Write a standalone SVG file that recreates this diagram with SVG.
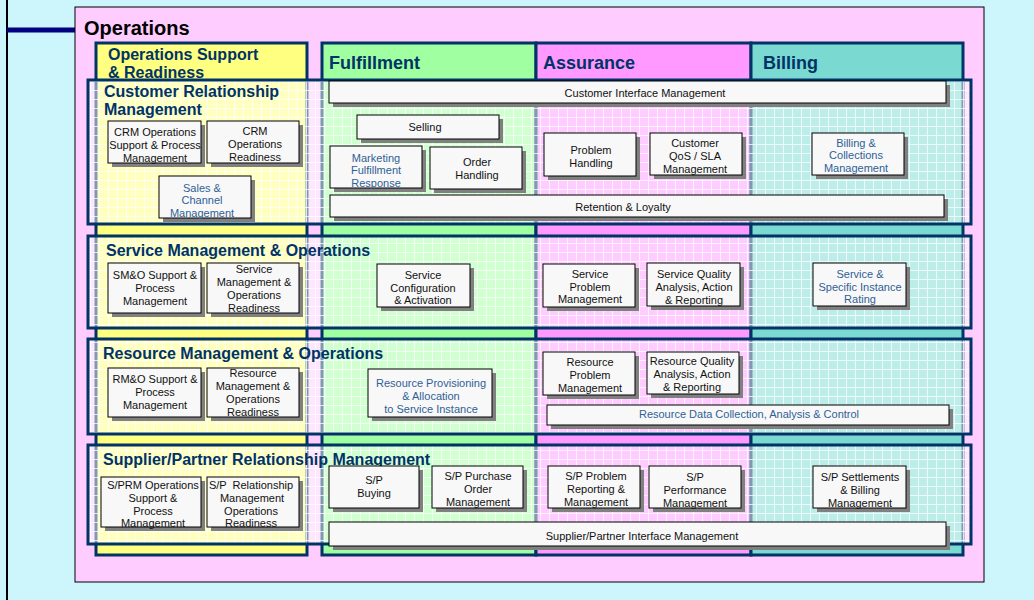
<svg xmlns="http://www.w3.org/2000/svg" width="1034" height="600" viewBox="0 0 1034 600">
<style>
.col{stroke:#003366;stroke-width:3}
.row{fill:#ffffff;fill-opacity:0.5;stroke:none}
.rowgrid{fill:url(#grid);stroke:none}
.rowb{fill:none;stroke:#003366;stroke-width:3}
.hd{font-family:"Liberation Sans",Arial,sans-serif;font-weight:bold;fill:#003366}
.h1{font-size:16px}
.h2{font-size:18px}
.sh{fill:#808080}
.bx{fill:#f8f8f8;stroke:#000000;stroke-width:1}
.t{font-family:"Liberation Sans",Arial,sans-serif;font-size:11px;fill:#111111;text-anchor:middle}
.b{fill:#2f5f96}
</style>
<defs>
<pattern id="grid" width="9" height="9" patternUnits="userSpaceOnUse">
<path d="M0 0.5H9M0.5 0V9" stroke="#ffffff" stroke-opacity="0.75" stroke-width="1" fill="none"/>
</pattern>
</defs>
<rect x="0" y="0" width="1034" height="600" fill="#ccf5fc"/>
<g id="frame">
<line x1="7" y1="0" x2="7" y2="600" stroke="#000000" stroke-width="2"/>
<line x1="7" y1="30" x2="75" y2="30" stroke="#000080" stroke-width="5"/>
<rect x="75" y="7" width="909" height="575" fill="#ffccff" stroke="#000000" stroke-width="1"/>
<text x="84" y="35" font-family="Liberation Sans,Arial,sans-serif" font-weight="bold" font-size="20" fill="#000000">Operations</text>
</g>
<g id="columns">
<rect class="col" x="96" y="43" width="211" height="512" fill="#ffff80"/>
<rect class="col" x="322" y="43" width="214" height="512" fill="#a0ffa0"/>
<rect class="col" x="536" y="43" width="215" height="512" fill="#ff99ff"/>
<rect class="col" x="751" y="43" width="212" height="512" fill="#7adad2"/>
<text class="hd h1" x="108" y="60">Operations Support</text>
<text class="hd h1" x="108" y="78">&amp; Readiness</text>
<text class="hd h2" x="329" y="69">Fulfillment</text>
<text class="hd h2" x="543" y="69">Assurance</text>
<text class="hd h2" x="763" y="69">Billing</text>
</g>
<g id="rows">
<rect class="row" x="88" y="80" width="883" height="144"/>
<rect class="rowgrid" x="88" y="80" width="883" height="144"/>
<rect class="rowb" x="88" y="80" width="883" height="144"/>
<rect class="row" x="88" y="236" width="883" height="92"/>
<rect class="rowgrid" x="88" y="236" width="883" height="92"/>
<rect class="rowb" x="88" y="236" width="883" height="92"/>
<rect class="row" x="88" y="339" width="883" height="95"/>
<rect class="rowgrid" x="88" y="339" width="883" height="95"/>
<rect class="rowb" x="88" y="339" width="883" height="95"/>
<rect class="row" x="88" y="445" width="883" height="99"/>
<rect class="rowgrid" x="88" y="445" width="883" height="99"/>
<rect class="rowb" x="88" y="445" width="883" height="99"/>
<text class="hd h1" x="104" y="97">Customer Relationship</text>
<text class="hd h1" x="104" y="115">Management</text>
<text class="hd h1" x="106" y="256">Service Management &amp; Operations</text>
<text class="hd h1" x="103" y="359">Resource Management &amp; Operations</text>
<text class="hd h1" x="103" y="465">Supplier/Partner Relationship Management</text>
</g>
<g id="crm-ops-support"><rect class="sh" x="112" y="125" width="93" height="42"/><rect class="bx" x="108" y="121" width="93" height="42"/><text class="t" x="155" y="136">CRM Operations</text><text class="t" x="155" y="149">Support &amp; Process</text><text class="t" x="155" y="162">Management</text></g>
<g id="crm-ops-readiness"><rect class="sh" x="211" y="125" width="92" height="42"/><rect class="bx" x="207" y="121" width="92" height="42"/><text class="t" x="255" y="135">CRM</text><text class="t" x="255" y="148">Operations</text><text class="t" x="255" y="161">Readiness</text></g>
<g id="sales-channel"><rect class="sh" x="163" y="180" width="92" height="42"/><rect class="bx" x="159" y="176" width="92" height="42"/><text class="t b" x="202" y="192">Sales &amp;</text><text class="t b" x="202" y="204">Channel</text><text class="t b" x="202" y="217">Management</text></g>
<g id="customer-interface"><rect class="sh" x="333" y="85" width="617" height="22"/><rect class="bx" x="329" y="81" width="617" height="22"/><text class="t" x="645" y="97">Customer Interface Management</text></g>
<g id="selling"><rect class="sh" x="361" y="119" width="142" height="24"/><rect class="bx" x="357" y="115" width="142" height="24"/><text class="t" x="425" y="131">Selling</text></g>
<g id="marketing-fulfillment"><rect class="sh" x="334" y="150" width="92" height="42"/><rect class="bx" x="330" y="146" width="92" height="42"/><text class="t b" x="376" y="162">Marketing</text><text class="t b" x="376" y="174">Fulfillment</text><text class="t b" x="376" y="187">Response</text></g>
<g id="order-handling"><rect class="sh" x="434" y="151" width="92" height="42"/><rect class="bx" x="430" y="147" width="92" height="42"/><text class="t" x="477" y="166">Order</text><text class="t" x="477" y="179">Handling</text></g>
<g id="problem-handling"><rect class="sh" x="548" y="137" width="92" height="43"/><rect class="bx" x="544" y="133" width="92" height="43"/><text class="t" x="591" y="154">Problem</text><text class="t" x="591" y="167">Handling</text></g>
<g id="customer-qos"><rect class="sh" x="654" y="137" width="92" height="42"/><rect class="bx" x="650" y="133" width="92" height="42"/><text class="t" x="695" y="147">Customer</text><text class="t" x="695" y="160">QoS / SLA</text><text class="t" x="695" y="173">Management</text></g>
<g id="billing-collections"><rect class="sh" x="816" y="137" width="92" height="42"/><rect class="bx" x="812" y="133" width="92" height="42"/><text class="t b" x="856" y="147">Billing &amp;</text><text class="t b" x="856" y="159">Collections</text><text class="t b" x="856" y="172">Management</text></g>
<g id="retention-loyalty"><rect class="sh" x="334" y="199" width="614" height="22"/><rect class="bx" x="330" y="195" width="614" height="22"/><text class="t" x="623" y="211">Retention &amp; Loyalty</text></g>
<g id="smo-support"><rect class="sh" x="112" y="267" width="93" height="50"/><rect class="bx" x="108" y="263" width="93" height="50"/><text class="t" x="155" y="279">SM&amp;O Support &amp;</text><text class="t" x="155" y="292">Process</text><text class="t" x="155" y="305">Management</text></g>
<g id="smo-readiness"><rect class="sh" x="211" y="267" width="92" height="50"/><rect class="bx" x="207" y="263" width="92" height="50"/><text class="t" x="254" y="273">Service</text><text class="t" x="254" y="286">Management &amp;</text><text class="t" x="254" y="299">Operations</text><text class="t" x="254" y="312">Readiness</text></g>
<g id="service-config"><rect class="sh" x="381" y="268" width="93" height="43"/><rect class="bx" x="377" y="264" width="93" height="43"/><text class="t" x="423" y="279">Service</text><text class="t" x="423" y="292">Configuration</text><text class="t" x="423" y="304">&amp; Activation</text></g>
<g id="service-problem"><rect class="sh" x="547" y="268" width="92" height="43"/><rect class="bx" x="543" y="264" width="92" height="43"/><text class="t" x="590" y="278">Service</text><text class="t" x="590" y="291">Problem</text><text class="t" x="590" y="303">Management</text></g>
<g id="service-quality"><rect class="sh" x="651" y="267" width="93" height="43"/><rect class="bx" x="647" y="263" width="93" height="43"/><text class="t" x="694" y="278">Service Quality</text><text class="t" x="694" y="291">Analysis, Action</text><text class="t" x="694" y="304">&amp; Reporting</text></g>
<g id="service-rating"><rect class="sh" x="817" y="267" width="93" height="43"/><rect class="bx" x="813" y="263" width="93" height="43"/><text class="t b" x="860" y="278">Service &amp;</text><text class="t b" x="860" y="291">Specific Instance</text><text class="t b" x="860" y="303">Rating</text></g>
<g id="rmo-support"><rect class="sh" x="112" y="372" width="93" height="49"/><rect class="bx" x="108" y="368" width="93" height="49"/><text class="t" x="155" y="383">RM&amp;O Support &amp;</text><text class="t" x="155" y="396">Process</text><text class="t" x="155" y="409">Management</text></g>
<g id="rmo-readiness"><rect class="sh" x="211" y="372" width="92" height="49"/><rect class="bx" x="207" y="368" width="92" height="49"/><text class="t" x="253" y="377">Resource</text><text class="t" x="253" y="390">Management &amp;</text><text class="t" x="253" y="403">Operations</text><text class="t" x="253" y="416">Readiness</text></g>
<g id="resource-provisioning"><rect class="sh" x="372" y="373" width="124" height="48"/><rect class="bx" x="368" y="369" width="124" height="48"/><text class="t b" x="431" y="387">Resource Provisioning</text><text class="t b" x="431" y="400">&amp; Allocation</text><text class="t b" x="431" y="413">to Service Instance</text></g>
<g id="resource-problem"><rect class="sh" x="547" y="356" width="92" height="43"/><rect class="bx" x="543" y="352" width="92" height="43"/><text class="t" x="590" y="366">Resource</text><text class="t" x="590" y="379">Problem</text><text class="t" x="590" y="392">Management</text></g>
<g id="resource-quality"><rect class="sh" x="651" y="356" width="92" height="42"/><rect class="bx" x="647" y="352" width="92" height="42"/><text class="t" x="692" y="365">Resource Quality</text><text class="t" x="692" y="378">Analysis, Action</text><text class="t" x="692" y="391">&amp; Reporting</text></g>
<g id="resource-data"><rect class="sh" x="551" y="409" width="402" height="20"/><rect class="bx" x="547" y="405" width="402" height="20"/><text class="t b" x="749" y="418">Resource Data Collection, Analysis &amp; Control</text></g>
<g id="sprm-support"><rect class="sh" x="105" y="481" width="100" height="50"/><rect class="bx" x="101" y="477" width="100" height="50"/><text class="t" x="153" y="489">S/PRM Operations</text><text class="t" x="153" y="502">Support &amp;</text><text class="t" x="153" y="515">Process</text><text class="t" x="153" y="527">Management</text></g>
<g id="sp-relationship-readiness"><rect class="sh" x="211" y="481" width="92" height="50"/><rect class="bx" x="207" y="477" width="92" height="50"/><text class="t" x="251" y="489" xml:space="preserve">S/P  Relationship</text><text class="t" x="252" y="502">Management</text><text class="t" x="251" y="515">Operations</text><text class="t" x="251" y="527">Readiness</text></g>
<g id="sp-buying"><rect class="sh" x="333" y="470" width="90" height="42"/><rect class="bx" x="329" y="466" width="90" height="42"/><text class="t" x="374" y="484">S/P</text><text class="t" x="374" y="497">Buying</text></g>
<g id="sp-purchase-order"><rect class="sh" x="436" y="470" width="91" height="42"/><rect class="bx" x="432" y="466" width="91" height="42"/><text class="t" x="478" y="480">S/P Purchase</text><text class="t" x="478" y="493">Order</text><text class="t" x="478" y="506">Management</text></g>
<g id="sp-problem"><rect class="sh" x="552" y="470" width="92" height="42"/><rect class="bx" x="548" y="466" width="92" height="42"/><text class="t" x="596" y="480">S/P Problem</text><text class="t" x="596" y="493">Reporting &amp;</text><text class="t" x="596" y="506">Management</text></g>
<g id="sp-performance"><rect class="sh" x="653" y="470" width="92" height="42"/><rect class="bx" x="649" y="466" width="92" height="42"/><text class="t" x="695" y="481">S/P</text><text class="t" x="695" y="494">Performance</text><text class="t" x="695" y="507">Management</text></g>
<g id="sp-settlements"><rect class="sh" x="817" y="470" width="93" height="42"/><rect class="bx" x="813" y="466" width="93" height="42"/><text class="t" x="860" y="481">S/P Settlements</text><text class="t" x="860" y="494">&amp; Billing</text><text class="t" x="860" y="507">Management</text></g>
<g id="sp-interface"><rect class="sh" x="333" y="526" width="617" height="24"/><rect class="bx" x="329" y="522" width="617" height="24"/><text class="t" x="642" y="540">Supplier/Partner Interface Management</text></g>
<g id="connectors"></g>
</svg>
